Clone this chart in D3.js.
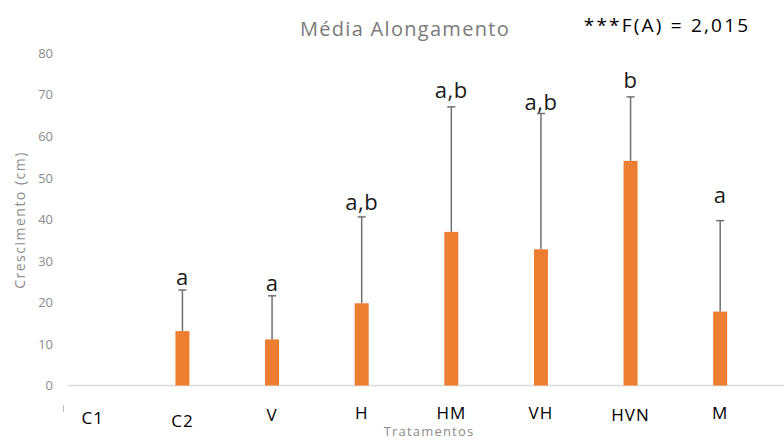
<!DOCTYPE html>
<html>
<head>
<meta charset="utf-8">
<script src="https://cdn.jsdelivr.net/npm/d3@7"></script>
<style>
  body { margin: 0; background: #fff; }
  svg { display: block; font-family: "Open Sans", "Noto Sans", sans-serif; }
</style>
</head>
<body>
<div id="svgContainer"></div>
<script>
// data
var tratamentos = ["C1", "C2", "V", "H", "HM", "VH", "HVN", "M"];
var medias = [0, 13.1, 11.1, 19.8, 37.0, 32.8, 54.1, 17.8];
var errosSup = [0, 23.0, 21.6, 40.6, 67.1, 65.5, 69.5, 39.7];
var letras = ["", "a", "a", "a,b", "a,b", "a,b", "b", "a"];
var yTicks = [0, 10, 20, 30, 40, 50, 60, 70, 80];

// small manual nudges, the original labels were loose text boxes
var labelDy = [424, 427, 421, 419, 419, 419, 421, 419];
var letraGap = [6, 5, 5, 7, 9, 4, 9, 18];

var width = 784, height = 441;

var svgC = d3.select("#svgContainer").append("svg")
	.attr("width", width)
	.attr("height", height);

var x = d3.scaleBand()
	.domain(tratamentos)
	.range([48, 765])
	.paddingInner(0.844)
	.paddingOuter(0.422);

var y = d3.scaleLinear()
	.domain([0, 80])
	.range([385.5, 53.3]);

// y axis, only the labels are visible
var yAxis = svgC.append("g")
	.attr("transform", "translate(53,0)")
	.call(d3.axisLeft(y).tickValues(yTicks).tickSize(0).tickPadding(0));
yAxis.select(".domain").remove();
yAxis.selectAll("text")
	.attr("fill", "#8c8c8c")
	.attr("font-size", "13px")
	.attr("font-family", "Open Sans, sans-serif");

// baseline
svgC.append("line")
	.attr("x1", 68).attr("x2", 784)
	.attr("y1", y(0)).attr("y2", y(0))
	.attr("stroke", "#d9d9d9")
	.attr("stroke-width", 1.5);
// little stray mark under the axis start
svgC.append("line")
	.attr("x1", 63.5).attr("x2", 63.5)
	.attr("y1", 405).attr("y2", 412)
	.attr("stroke", "#bfbfbf")
	.attr("stroke-width", 1);

// error bars (upper only)
var errG = svgC.append("g");
tratamentos.forEach(function (t, i) {
	if (errosSup[i] <= 0) return;
	var cx = x(t) + x.bandwidth() / 2;
	errG.append("line")
		.attr("x1", cx).attr("x2", cx)
		.attr("y1", y(medias[i])).attr("y2", y(errosSup[i]))
		.attr("stroke", "#707070")
		.attr("stroke-width", 1.5);
	errG.append("line")
		.attr("x1", cx - 4).attr("x2", cx + 4)
		.attr("y1", y(errosSup[i])).attr("y2", y(errosSup[i]))
		.attr("stroke", "#707070")
		.attr("stroke-width", 1.5);
});

// bars
svgC.append("g").selectAll("rect")
	.data(tratamentos)
	.enter().append("rect")
	.attr("x", function (d) { return x(d); })
	.attr("width", x.bandwidth())
	.attr("y", function (d, i) { return y(medias[i]); })
	.attr("height", function (d, i) { return y(0) - y(medias[i]); })
	.attr("fill", "#ed7d31");

// significance letters
svgC.append("g").selectAll("text")
	.data(tratamentos)
	.enter().append("text")
	.attr("x", function (d) { return x(d) + x.bandwidth() / 2; })
	.attr("y", function (d, i) { return y(errosSup[i]) - letraGap[i]; })
	.attr("text-anchor", "middle")
	.attr("font-size", "22px")
	.attr("letter-spacing", "0.5px")
	.attr("fill", "#1a1a1a")
	.text(function (d, i) { return letras[i]; });

// category labels
svgC.append("g").selectAll("text")
	.data(tratamentos)
	.enter().append("text")
	.attr("x", function (d) { return x(d) + x.bandwidth() / 2; })
	.attr("y", function (d, i) { return labelDy[i]; })
	.attr("text-anchor", "middle")
	.attr("font-size", "17px")
	.attr("letter-spacing", "1px")
	.attr("fill", "#000")
	.text(function (d) { return d; });

// titles
svgC.append("text")
	.attr("x", 405).attr("y", 36)
	.attr("text-anchor", "middle")
	.attr("font-size", "20px")
	.attr("letter-spacing", "1.3px")
	.attr("fill", "#7a7a7a")
	.text("Média Alongamento");

svgC.append("text")
	.attr("x", 667).attr("y", 32)
	.attr("text-anchor", "middle")
	.attr("font-size", "19px")
	.attr("letter-spacing", "2.2px")
	.attr("fill", "#000")
	.text("***F(A) = 2,015");

svgC.append("text")
	.attr("x", 429).attr("y", 436)
	.attr("text-anchor", "middle")
	.attr("font-size", "13px")
	.attr("letter-spacing", "1.2px")
	.attr("fill", "#8c8c8c")
	.text("Tratamentos");

svgC.append("text")
	.attr("transform", "translate(25,220) rotate(-90)")
	.attr("text-anchor", "middle")
	.attr("font-size", "14px")
	.attr("letter-spacing", "1.5px")
	.attr("fill", "#8c8c8c")
	.text("Crescimento (cm)");
</script>
</body>
</html>
